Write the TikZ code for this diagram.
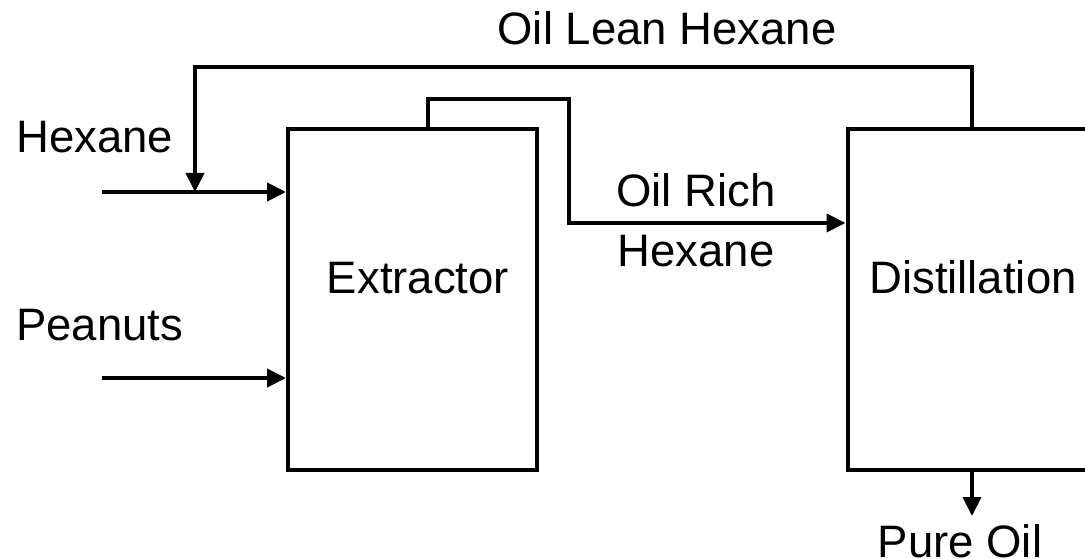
\documentclass[tikz,border=0pt]{standalone}
\usepackage{fontspec}
\setmainfont{Liberation Sans}
\usetikzlibrary{arrows.meta}
\begin{document}
\begin{tikzpicture}[x=1pt,y=-1pt,
  unitbox/.style={draw=black, line width=4pt, rectangle, minimum width=249pt, minimum height=341pt, inner sep=0pt},
  flow/.style={draw=black, line width=4pt, -{Triangle[length=19pt,width=18pt]}},
  lbl/.style={inner sep=0pt, font=\fontsize{45.5}{54}\selectfont}]
\useasboundingbox (0,0) rectangle (1085,559);
\fill[white] (0,0) rectangle (1085,559);
% units
\node[unitbox] (ext) at (412.5,299.5) {};
\node[unitbox] (dist) at (972,299.5) {};
% labels
\node[lbl, anchor=base] (extlbl) at (418,293) {Extractor};
\node[lbl, anchor=base] (distlbl) at (973,293) {Distillation};
\node[lbl, anchor=base west] (hexlbl) at (16,153) {Hexane};
\node[lbl, anchor=base west] (peanutlbl) at (16,340) {Peanuts};
\node[lbl, anchor=base] (leanlbl) at (667,45) {Oil Lean Hexane};
\node[lbl, anchor=base] (richlbla) at (696,207) {Oil Rich};
\node[lbl, anchor=base] (richlblb) at (696,266) {Hexane};
\node[lbl, anchor=base] (purelbl) at (960,557) {Pure Oil};
% free ends
\coordinate (hexin) at (102,192);
\coordinate (pin) at (102,378);
\coordinate (pureend) at (972,516);
% feeds
\draw[flow] (hexin) -- (hexin -| ext.west);
\draw[flow] (pin) -- (pin -| ext.west);
% oil rich hexane
\draw[flow] (428,0 |- ext.north) -- (428,99) -- (569,99) -- (569,223) -- (569,223 -| dist.west);
% oil lean hexane recycle
\draw[flow] (dist.north) -- (972,67) -- (195,67) -- (195,0 |- hexin);
% pure oil
\draw[flow] (dist.south) -- (pureend);
\end{tikzpicture}
\end{document}
